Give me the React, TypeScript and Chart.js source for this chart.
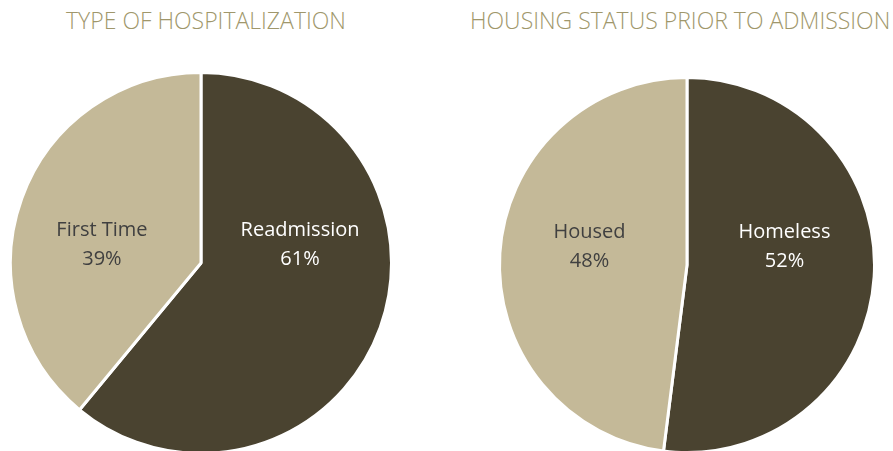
import React, { useEffect, useRef } from "react";
import { Chart, registerables } from "chart.js";

Chart.register(...registerables);

const leftTitle = "TYPE OF HOSPITALIZATION";
const leftLabels = ["Readmission", "First Time"];
const leftValues = [61, 39];

const rightTitle = "HOUSING STATUS PRIOR TO ADMISSION";
const rightLabels = ["Homeless", "Housed"];
const rightValues = [52, 48];

const DARK = "#4a4330";
const LIGHT = "#c4b998";
const TITLE_COLOR = "#a0976b";

const labelPlugin = {
  id: "pieLabels",
  afterDatasetsDraw(chart: any) {
    const ctx = chart.ctx;
    const meta = chart.getDatasetMeta(0);
    const data = chart.data.datasets[0].data as number[];
    const total = data.reduce((a, b) => a + b, 0);
    ctx.save();
    ctx.font = "20px 'Open Sans'";
    ctx.textAlign = "center";
    ctx.textBaseline = "middle";
    meta.data.forEach((arc: any, i: number) => {
      const { x, y, startAngle, endAngle, outerRadius } = arc.getProps(
        ["x", "y", "startAngle", "endAngle", "outerRadius"],
        true
      );
      const mid = (startAngle + endAngle) / 2;
      const side = Math.cos(mid) >= 0 ? 1 : -1;
      const lx = x + side * 0.52 * outerRadius;
      const ly = y - 0.1 * outerRadius;
      ctx.fillStyle = i === 0 ? "#ffffff" : "#404040";
      const pct = Math.round((data[i] / total) * 100) + "%";
      ctx.fillText(String(chart.data.labels[i]), lx, ly - 14);
      ctx.fillText(pct, lx, ly + 15);
    });
    ctx.restore();
  },
};

function Pie({
  labels,
  values,
  radius,
  left,
  top,
}: {
  labels: string[];
  values: number[];
  radius: number;
  left: number;
  top: number;
}) {
  const ref = useRef<HTMLCanvasElement>(null);
  useEffect(() => {
    if (!ref.current) return;
    const chart = new Chart(ref.current, {
      type: "pie",
      data: {
        labels,
        datasets: [
          {
            data: values,
            backgroundColor: [DARK, LIGHT],
            borderColor: "#ffffff",
            borderWidth: 3,
          },
        ],
      },
      options: {
        animation: false,
        responsive: false,
        radius,
        layout: { padding: 0 },
        plugins: {
          legend: { display: false },
          tooltip: { enabled: false },
          title: { display: false },
        },
      },
      plugins: [labelPlugin],
    });
    return () => chart.destroy();
  }, []);
  return (
    <canvas
      ref={ref}
      width={400}
      height={400}
      style={{ position: "absolute", left, top, width: 400, height: 400 }}
    />
  );
}

export default function App() {
  const titleStyle: React.CSSProperties = {
    position: "absolute",
    top: 5,
    fontFamily: "'Open Sans', sans-serif",
    fontWeight: 300,
    fontSize: 23,
    color: TITLE_COLOR,
    whiteSpace: "nowrap",
    lineHeight: "30px",
  };
  return (
    <div
      style={{
        position: "fixed",
        left: 0,
        top: 0,
        width: 893,
        height: 451,
        overflow: "hidden",
        background: "#ffffff",
      }}
    >
      <Pie labels={leftLabels} values={leftValues} radius={190.5} left={1} top={63} />
      <Pie labels={rightLabels} values={rightValues} radius={187.5} left={487} top={65} />
      <div style={{ ...titleStyle, left: 0, width: 412, textAlign: "center" }}>{leftTitle}</div>
      <div style={{ ...titleStyle, left: 470 }}>{rightTitle}</div>
    </div>
  );
}
